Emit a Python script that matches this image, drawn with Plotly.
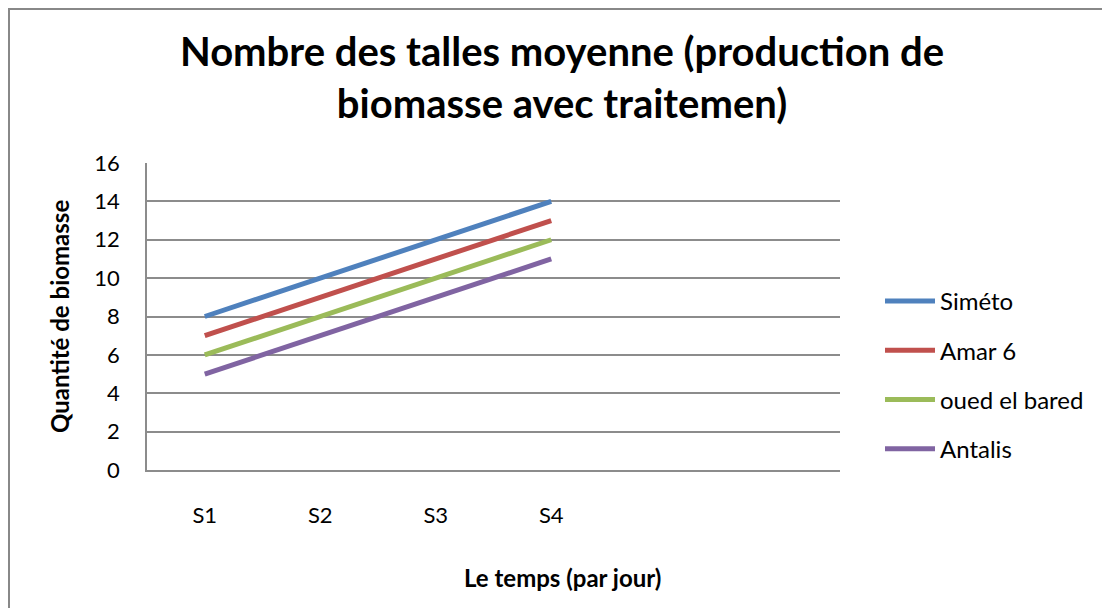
import plotly.graph_objects as go

jours = [1, 2, 3, 4]
jour_labels = ["S1", "S2", "S3", "S4"]

simeto = [8, 10, 12, 14]
amar_6 = [7, 9, 11, 13]
oued_el_bared = [6, 8, 10, 12]
antalis = [5, 7, 9, 11]

series = [
    ("Siméto", simeto, "#4F81BD"),
    ("Amar 6", amar_6, "#C0504D"),
    ("oued el bared", oued_el_bared, "#9BBB59"),
    ("Antalis", antalis, "#8064A2"),
]

# page has an 8px body margin, so the figure is a bit smaller than the window
OFF = 8
W, H = 1110 - OFF, 608 - OFF
L, T = 147 - OFF, 163 - OFF
R, B = W - (840 - OFF), H - (470 - OFF)
pw, ph = W - L - R, H - T - B


def px(xi):
    return ((xi - OFF) - L) / pw


def py(yi):
    return ((T + ph) - (yi - OFF)) / ph


fig = go.Figure()
for name, vals, color in series:
    fig.add_trace(go.Scatter(
        x=jours, y=vals, name=name, mode="lines", legendgroup=name,
        line=dict(color=color, width=5),
    ))

font = "Lato, 'Open Sans', sans-serif"
grid = "#8C8C8C"

fig.update_layout(
    width=W, height=H,
    margin=dict(l=L, r=R, t=T, b=B),
    paper_bgcolor="white", plot_bgcolor="white",
    font=dict(family=font, color="black", size=22),
    title=dict(
        text="<b>Nombre des talles moyenne (production de<br>biomasse avec traitemen)</b>",
        x=(562 - OFF) / W, xanchor="center", xref="container",
        y=1 - (66 - OFF) / H, yanchor="middle",
        font=dict(size=40, family=font),
    ),
    xaxis=dict(
        range=[0.5, 6.5], tickvals=jours, ticktext=jour_labels,
        showgrid=False, zeroline=False, showline=True, linecolor=grid, linewidth=1.5,
        ticks="", ticklabelstandoff=25, tickfont=dict(size=22),
    ),
    yaxis=dict(
        range=[0, 16], dtick=2, showgrid=True, gridcolor=grid, gridwidth=1.5,
        zeroline=False, showline=True, linecolor=grid, linewidth=1.5,
        ticks="", ticklabelstandoff=21, tickfont=dict(size=22),
    ),
    legend=dict(
        x=px(880), xanchor="left", y=py(279), yanchor="top",
        font=dict(size=24), tracegroupgap=15, itemwidth=50,
        bgcolor="rgba(0,0,0,0)",
    ),
    showlegend=True,
)

fig.add_annotation(
    text="<b>Le temps (par jour)</b>", xref="paper", yref="paper",
    x=px(562), y=py(577), xanchor="center", yanchor="middle",
    showarrow=False, font=dict(size=24),
)
fig.add_annotation(
    text="<b>Quantité de biomasse</b>", xref="paper", yref="paper",
    x=px(59), y=py(317), xanchor="center", yanchor="middle", textangle=-90,
    showarrow=False, font=dict(size=24),
)

fig.add_shape(
    type="rect", xref="paper", yref="paper",
    x0=px(OFF + 1), x1=px(1130), y0=py(640), y1=py(OFF + 1),
    line=dict(color="#888888", width=2), fillcolor="rgba(0,0,0,0)", layer="below",
)

fig.write_html("out.html")
